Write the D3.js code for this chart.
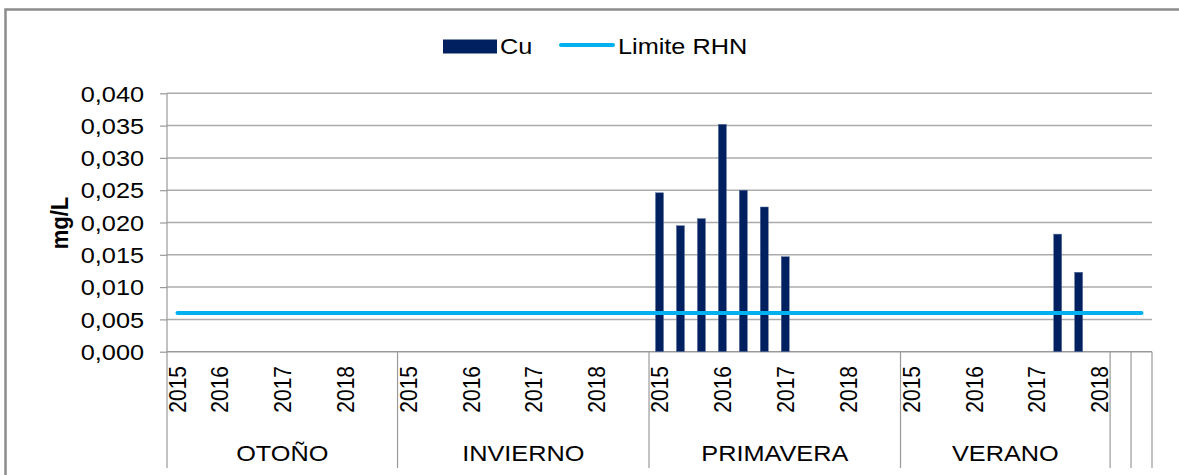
<!DOCTYPE html>
<html><head><meta charset="utf-8">
<script src="https://cdn.jsdelivr.net/npm/d3@7"></script>
<style>
html,body{margin:0;padding:0;background:#fff;}
svg{display:block;font-family:"Liberation Sans",Arial,sans-serif;}
</style></head>
<body><svg id="c" width="1179" height="475"></svg>
<script>
// ---- data ----
const seasons = ["OTOÑO", "INVIERNO", "PRIMAVERA", "VERANO", "", ""];
// number of samples per year inside each season (years 2015..2018)
const years = ["2015", "2016", "2017", "2018"];
const samplesPerYear = [[2,3,3,3],[3,3,3,3],[3,3,3,3],[3,3,3,1],[1],[1]];
const cuOtono     = [null,null,null,null,null,null,null,null,null,null,null];
const cuInvierno  = [null,null,null,null,null,null,null,null,null,null,null,null];
const cuPrimavera = [0.0246,0.0195,0.0206,0.0352,0.0250,0.0224,0.0147,null,null,null,null,null];
const cuVerano    = [null,null,null,null,null,null,null,0.0182,0.0123,null];
const cuExtra     = [null,null];
const limiteRHN = 0.006;
const yTicks = [0,0.005,0.010,0.015,0.020,0.025,0.030,0.035,0.040];

// ---- build categories ----
const cats = [];
samplesPerYear.forEach((ys, si) => {
  ys.forEach((n, yi) => {
    for (let k = 0; k < n; k++) {
      cats.push({season: si, year: (si < 4 ? years[yi] : ""), first: k === 0});
    }
  });
});
const cu = [].concat(cuOtono, cuInvierno, cuPrimavera, cuVerano, cuExtra);
cats.forEach((c, i) => { c.cu = cu[i]; c.lim = limiteRHN; c.i = i; });

const svg = d3.select("#c");
const X0 = 167, X1 = 1152, Y0 = 351.7, Y1 = 93.3;
const x = d3.scaleBand().domain(cats.map(c => c.i)).range([X0, X1]).padding(0);
const y = d3.scaleLinear().domain([0, 0.04]).range([Y0, Y1]);
const loc = d3.formatLocale({decimal: ",", thousands: ".", grouping: [3], currency: ["", ""]});
const fmt = loc.format(".3f");
const SX = 1.15;

// frame
svg.append("rect").attr("x", 5.5).attr("y", 9.5).attr("width", 1190).attr("height", 500)
  .attr("fill", "none").attr("stroke", "#8c8c8c").attr("stroke-width", 2.5);

// gridlines
svg.append("g").selectAll("line").data(yTicks.slice(1)).join("line")
  .attr("x1", X0).attr("x2", X1).attr("y1", d => y(d)).attr("y2", d => y(d))
  .attr("stroke", "#ababab").attr("stroke-width", 1.5);

// y axis
const ya = svg.append("g").attr("transform", `translate(${X0},0)`)
  .call(d3.axisLeft(y).tickValues(yTicks).tickSize(7).tickFormat(fmt));
ya.select(".domain").remove();
ya.selectAll(".tick line").attr("stroke", "#999").attr("stroke-width", 1.2);
ya.selectAll(".tick text").attr("font-size", 22).attr("fill", "#000").attr("x", 0)
  .attr("dy", "0.35em").attr("text-anchor", "end")
  .attr("transform", `translate(-23,0) scale(${SX},1)`)
  .style("font-family", "Liberation Sans, Arial, sans-serif");
svg.append("line").attr("x1", X0).attr("x2", X0).attr("y1", Y1).attr("y2", 468)
  .attr("stroke", "#999").attr("stroke-width", 1.2);

// x baseline
svg.append("line").attr("x1", X0).attr("x2", X1).attr("y1", Y0).attr("y2", Y0)
  .attr("stroke", "#999").attr("stroke-width", 1.5);

// season boundaries
const bounds = [];
let acc = 0;
samplesPerYear.forEach((ys, si) => {
  const n = d3.sum(ys);
  bounds.push({si, start: acc, end: acc + n});
  acc += n;
});
svg.append("g").selectAll("line").data(bounds).join("line")
  .attr("x1", d => x(d.end - 1) + x.bandwidth()).attr("x2", d => x(d.end - 1) + x.bandwidth())
  .attr("y1", Y0).attr("y2", 468).attr("stroke", "#999").attr("stroke-width", 1.2);

// season labels
svg.append("g").selectAll("text").data(bounds.filter(b => seasons[b.si])).join("text")
  .attr("transform", d => `translate(${(x(d.start) + x(d.end - 1) + x.bandwidth()) / 2},461) scale(${SX},1)`)
  .attr("text-anchor", "middle").attr("font-size", 22).attr("fill", "#000")
  .text(d => seasons[d.si]);

// year labels
svg.append("g").selectAll("text").data(cats.filter(c => c.first && c.year)).join("text")
  .attr("transform", d => `translate(${x(d.i) + x.bandwidth() / 2},366) scale(1.15,1) rotate(-90)`)
  .attr("text-anchor", "end").attr("dy", "0.36em").attr("font-size", 21).attr("fill", "#000")
  .text(d => d.year);

// bars
const BW = 8;
svg.append("g").selectAll("rect").data(cats.filter(c => c.cu != null)).join("rect")
  .attr("x", d => x(d.i) + x.bandwidth() / 2 - BW / 2).attr("width", BW)
  .attr("y", d => y(d.cu)).attr("height", d => Y0 - y(d.cu))
  .attr("fill", "#002060").attr("stroke", "#5a6f9a").attr("stroke-width", 0.5);

// limit line
const line = d3.line().x(d => x(d.i) + x.bandwidth() / 2).y(d => y(d.lim));
svg.append("path").datum(cats).attr("d", line).attr("fill", "none")
  .attr("stroke", "#00B0F0").attr("stroke-width", 4).attr("stroke-linecap", "round");

// y title
svg.append("text").attr("transform", "translate(68,223) scale(1.1,1) rotate(-90)")
  .attr("text-anchor", "middle").attr("font-size", 22).attr("font-weight", "bold").text("mg/L");

// legend
const lg = svg.append("g");
lg.append("rect").attr("x", 443).attr("y", 39.5).attr("width", 54).attr("height", 14).attr("fill", "#002060");
lg.append("text").attr("transform", `translate(500,54) scale(${SX},1)`).attr("font-size", 22).text("Cu");
lg.append("line").attr("x1", 561).attr("x2", 613).attr("y1", 45).attr("y2", 45)
  .attr("stroke", "#00B0F0").attr("stroke-width", 4).attr("stroke-linecap", "round");
lg.append("text").attr("transform", `translate(618,54) scale(${SX},1)`).attr("font-size", 22).text("Limite RHN");
</script></body></html>
